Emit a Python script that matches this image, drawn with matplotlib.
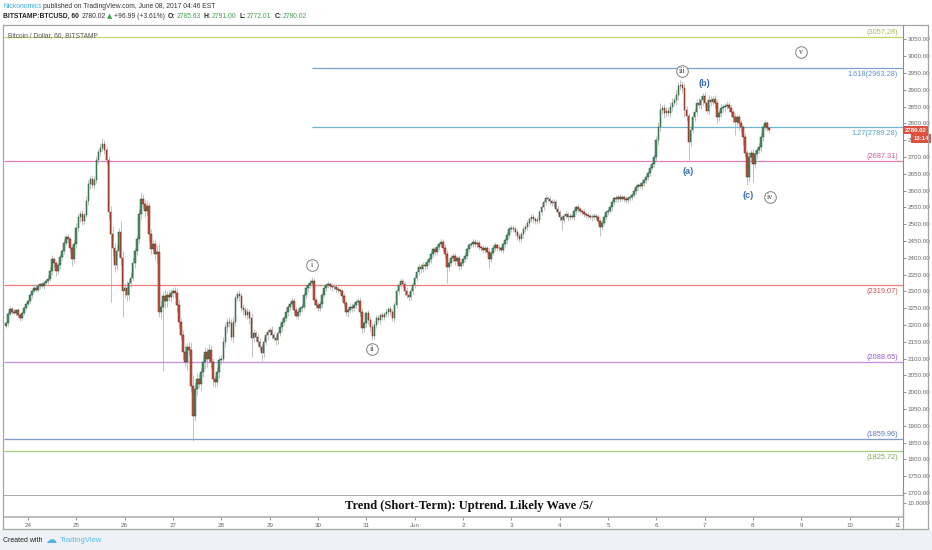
import numpy as np
import matplotlib.pyplot as plt
import matplotlib.transforms as mtransforms
from matplotlib.patches import Rectangle
from matplotlib.lines import Line2D

plt.rcParams['font.family'] = ['Liberation Sans', 'DejaVu Sans']

W, H = 932, 550

# BTCUSD hourly candles; hours counted from May 24 00:00 (first candle May 23 13:00)
first_hour = -11
first_open = 2196.0
closes_by_day = [
    [2205, 2232, 2248, 2240, 2236, 2244, 2230, 2222, 2235, 2250, 2262],  # May 23
    [2270, 2288, 2300, 2310, 2304, 2316, 2322, 2315, 2326, 2330, 2338, 2360,
     2395, 2385, 2360, 2378, 2402, 2420, 2445, 2462, 2455, 2428, 2395, 2440],  # 24
    [2490, 2522, 2530, 2510, 2528, 2570, 2620, 2635, 2618, 2632, 2690, 2715,
     2728, 2740, 2722, 2690, 2535, 2470, 2430, 2378, 2420, 2478, 2400, 2300],  # 25
    [2310, 2290, 2325, 2340, 2385, 2420, 2455, 2530, 2575, 2560, 2540, 2555,
     2470, 2425, 2440, 2410, 2418, 2240, 2255, 2285, 2270, 2290, 2282, 2295],  # 26
    [2300, 2296, 2260, 2210, 2170, 2120, 2090, 2135, 2125, 2020, 1930, 2010,
     2040, 2025, 2060, 2090, 2120, 2100, 2125, 2090, 2040, 2030, 2060, 2095],  # 27
    [2100, 2150, 2195, 2210, 2205, 2165, 2210, 2280, 2292, 2285, 2250, 2245,
     2230, 2238, 2222, 2160, 2175, 2165, 2150, 2135, 2118, 2150, 2170, 2180],  # 28
    [2185, 2170, 2162, 2155, 2175, 2195, 2210, 2220, 2240, 2255, 2262, 2270,
     2245, 2228, 2240, 2250, 2255, 2290, 2310, 2318, 2325, 2330, 2275, 2260],  # 29
    [2250, 2262, 2290, 2310, 2318, 2322, 2316, 2312, 2314, 2308, 2305, 2300,
     2285, 2265, 2238, 2245, 2255, 2250, 2260, 2268, 2272, 2240, 2190, 2205],  # 30
    [2235, 2215, 2195, 2168, 2200, 2222, 2215, 2230, 2225, 2232, 2240, 2248,
     2238, 2222, 2260, 2300, 2318, 2330, 2322, 2300, 2290, 2282, 2300, 2318],  # 31
    [2340, 2358, 2372, 2368, 2380, 2375, 2388, 2395, 2410, 2425, 2418, 2432,
     2440, 2448, 2430, 2410, 2372, 2385, 2398, 2405, 2390, 2398, 2375, 2385],  # Jun 1
    [2395, 2405, 2425, 2438, 2442, 2448, 2440, 2445, 2432, 2428, 2424, 2428,
     2418, 2395, 2415, 2430, 2438, 2430, 2428, 2424, 2440, 2452, 2468, 2485],  # 2
    [2490, 2486, 2478, 2465, 2455, 2470, 2485, 2492, 2505, 2515, 2522, 2515,
     2510, 2513, 2535, 2552, 2565, 2578, 2575, 2568, 2562, 2565, 2545, 2535],  # 3
    [2520, 2512, 2525, 2530, 2520, 2525, 2522, 2540, 2550, 2545, 2540, 2537,
     2530, 2528, 2525, 2522, 2520, 2525, 2522, 2510, 2492, 2505, 2522, 2535],  # 4
    [2540, 2550, 2565, 2578, 2575, 2582, 2576, 2580, 2575, 2572, 2578, 2582,
     2588, 2600, 2612, 2618, 2615, 2622, 2630, 2640, 2652, 2668, 2680, 2700],  # 5
    [2750, 2790, 2840, 2845, 2830, 2838, 2832, 2850, 2862, 2868, 2885, 2910,
     2915, 2905, 2840, 2822, 2745, 2780, 2820, 2835, 2860, 2855, 2870, 2880],  # 6
    [2860, 2838, 2870, 2865, 2872, 2860, 2820, 2830, 2845, 2848, 2852, 2855,
     2845, 2835, 2820, 2805, 2818, 2800, 2788, 2760, 2712, 2640, 2700, 2712],  # 7
    [2680, 2710, 2722, 2730, 2760, 2790, 2800, 2785.63, 2780.02],  # 8
]
# wick lengths above max(open, close) and below min(open, close)
up_wick_by_day = [
    [6, 10, 8, 5, 7, 4, 6, 5, 8, 6, 7],
    [5, 8, 6, 9, 5, 7, 4, 6, 5, 8, 10, 12, 14, 8, 6, 10, 9, 7, 12, 10, 8, 6, 9, 12],
    [15, 10, 8, 12, 9, 14, 10, 8, 12, 10, 12, 9, 14, 16, 10, 8, 12, 20, 25, 15, 18, 10, 30, 20],
    [15, 20, 12, 18, 14, 10, 12, 16, 21, 14, 12, 18, 10, 15, 12, 14, 20, 25, 15, 12, 18, 10, 14, 12],
    [10, 12, 15, 18, 10, 14, 20, 12, 15, 25, 30, 20, 18, 15, 12, 20, 14, 12, 18, 15, 12, 10, 14, 12],
    [10, 14, 12, 10, 15, 12, 14, 10, 8, 12, 10, 14, 8, 12, 10, 15, 12, 8, 10, 12, 9, 14, 10, 8],
    [8, 12, 10, 9, 7, 10, 12, 8, 10, 9, 8, 12, 10, 8, 9, 7, 10, 8, 9, 10, 12, 14, 10, 8],
    [8, 10, 7, 9, 8, 10, 6, 8, 7, 9, 8, 6, 7, 10, 8, 9, 7, 10, 8, 9, 7, 12, 10, 8],
    [7, 9, 8, 10, 12, 8, 9, 7, 10, 8, 9, 7, 8, 10, 9, 8, 7, 10, 8, 9, 12, 8, 10, 9],
    [8, 7, 10, 9, 8, 7, 9, 8, 10, 7, 9, 8, 7, 9, 8, 10, 12, 8, 9, 10, 8, 7, 9, 8],
    [7, 9, 8, 7, 6, 8, 9, 7, 8, 6, 9, 7, 8, 10, 7, 9, 8, 7, 9, 8, 7, 6, 8, 9],
    [8, 7, 9, 6, 8, 7, 9, 8, 6, 7, 8, 9, 7, 8, 6, 7, 8, 9, 7, 8, 6, 9, 7, 8],
    [7, 8, 6, 9, 7, 8, 6, 7, 8, 9, 7, 6, 8, 7, 9, 6, 8, 7, 6, 8, 9, 7, 8, 6],
    [7, 6, 8, 7, 9, 6, 8, 7, 6, 8, 7, 9, 6, 8, 7, 6, 8, 9, 7, 8, 6, 9, 8, 10],
    [12, 15, 20, 10, 14, 12, 10, 14, 12, 10, 15, 12, 13, 10, 14, 12, 10, 12, 14, 10, 12, 14, 12, 10],
    [12, 10, 14, 12, 10, 12, 8, 10, 12, 9, 10, 12, 8, 10, 9, 12, 8, 10, 9, 8, 12, 10, 15, 10],
    [12, 10, 9, 12, 10, 8, 10, 6, 5.37],
]
dn_wick_by_day = [
    [5, 7, 6, 8, 5, 9, 6, 10, 7, 5, 6],
    [6, 5, 8, 6, 7, 5, 9, 6, 7, 5, 8, 6, 10, 12, 15, 8, 10, 7, 9, 8, 10, 12, 20, 10],
    [12, 10, 15, 12, 10, 8, 12, 15, 10, 12, 8, 10, 12, 10, 14, 12, 20, 203, 25, 20, 15, 18, 20, 75],
    [20, 18, 15, 12, 10, 14, 12, 10, 15, 12, 18, 14, 20, 15, 12, 18, 25, 15, 20, 193, 18, 15, 12, 14],
    [15, 12, 20, 18, 15, 20, 12, 25, 15, 20, 76, 15, 20, 12, 18, 15, 20, 25, 14, 18, 20, 15, 12, 18],
    [12, 10, 15, 20, 12, 10, 15, 12, 10, 14, 12, 15, 10, 12, 20, 55, 10, 14, 12, 10, 25, 12, 10, 14],
    [10, 12, 8, 14, 10, 9, 12, 10, 8, 12, 9, 10, 12, 8, 10, 9, 12, 8, 10, 12, 9, 8, 15, 10],
    [9, 8, 10, 7, 9, 8, 10, 12, 8, 9, 10, 8, 12, 9, 10, 14, 10, 12, 9, 10, 8, 12, 15, 10],
    [10, 12, 15, 12, 9, 10, 8, 12, 9, 10, 8, 12, 9, 10, 12, 10, 9, 8, 10, 12, 9, 10, 8, 9],
    [9, 10, 8, 12, 9, 10, 8, 9, 10, 8, 12, 9, 10, 8, 9, 10, 46, 12, 9, 10, 12, 8, 10, 9],
    [8, 9, 10, 8, 7, 9, 8, 10, 9, 8, 10, 9, 8, 25, 9, 8, 10, 9, 8, 7, 9, 8, 10, 9],
    [9, 8, 10, 12, 9, 8, 10, 9, 8, 10, 9, 12, 8, 10, 9, 8, 10, 9, 8, 10, 9, 12, 10, 9],
    [10, 29, 9, 8, 10, 9, 8, 10, 9, 8, 10, 9, 8, 10, 9, 8, 10, 9, 8, 10, 27, 9, 8, 10],
    [9, 8, 10, 9, 8, 10, 9, 8, 10, 9, 8, 10, 9, 8, 10, 9, 8, 10, 9, 8, 10, 9, 8, 10],
    [12, 15, 14, 12, 15, 12, 10, 14, 12, 10, 12, 15, 12, 14, 20, 15, 54, 12, 10, 14, 12, 10, 12, 14],
    [12, 10, 14, 12, 10, 15, 20, 12, 10, 12, 14, 10, 12, 15, 18, 40, 14, 20, 15, 25, 12, 23, 15, 12],
    [55, 12, 15, 10, 14, 12, 10, 8, 8.01],
]

day_labels = ['24', '25', '26', '27', '28', '29', '30', '31', 'Jun',
              '2', '3', '4', '5', '6', '7', '8', '9', '10', '11']

level_prices = [3057.28, 2963.28, 2789.28, 2687.31, 2319.07, 2088.65, 1859.96, 1825.72]
level_texts = ['(3057.28)', '1.618(2963.28)', '1.27(2789.28)', '(2687.31)',
               '(2319.07)', '(2088.65)', '(1859.96)', '(1825.72)']
level_start = [None, 141, 141, None, None, None, None, None]
level_side = ['above', 'below', 'below', 'above', 'below', 'above', 'above', 'below']
level_colors = ['#c3d66a', '#79a5dc', '#6cb6d6', '#e47fb3', '#ef7f7f', '#c08ce4', '#7d9cc8', '#9fcd7c']
level_text_colors = ['#9fbf4f', '#5b8ed8', '#4aa2cf', '#d65a9c', '#c75050', '#9558cf', '#5a77c2', '#78ab55']

wave_texts = ['i', 'ii', 'iii', 'iv', 'v']
wave_hours = [141, 171, 325, 368.5, 384]
wave_prices = [2379, 2129, 2956, 2581, 3012]
abc_texts = ['(a)', '(b)', '(c)']
abc_hours = [328, 336, 357.5]
abc_prices = [2658, 2920, 2584]

last_price = 2780.02

closes = np.concatenate([np.array(d, float) for d in closes_by_day])
up_w = np.concatenate([np.array(d, float) for d in up_wick_by_day])
dn_w = np.concatenate([np.array(d, float) for d in dn_wick_by_day])
opens = np.r_[first_open, closes[:-1]]
highs = np.maximum(opens, closes) + up_w
lows = np.minimum(opens, closes) - dn_w
hours = np.arange(len(closes)) + first_hour


def rect(x0, y0, x1, y1):
    return [x0 / W, 1 - y1 / H, (x1 - x0) / W, (y1 - y0) / H]


fig = plt.figure(figsize=(W / 100, H / 100), dpi=100)
fig.patch.set_facecolor('white')

# page background below the chart
fig.patches.append(Rectangle((0, 0), 1, 1 - 530 / H, transform=fig.transFigure,
                             facecolor='#eef2f6', edgecolor='none', zorder=0))

XMIN, XMAX = -11.9, 434.5
YMIN, YMAX = 1691.3, 3092.6

ax = fig.add_axes(rect(4, 25, 903, 496))
ax.set_xlim(XMIN, XMAX)
ax.set_ylim(YMIN, YMAX)
ax.set_facecolor('white')

# candles
up = closes >= opens
ax.vlines(hours, lows, highs, color='#b0b0b0', lw=0.55, zorder=3)
body_bottom = np.minimum(opens, closes)
body_h = np.maximum(np.abs(closes - opens), 1.5)
ax.bar(hours[up], body_h[up], bottom=body_bottom[up], width=0.8,
       color='#4a9468', edgecolor='#275a3b', lw=0.35, zorder=4)
ax.bar(hours[~up], body_h[~up], bottom=body_bottom[~up], width=0.8,
       color='#c9523f', edgecolor='#6e2518', lw=0.35, zorder=4)

# horizontal levels
for p, txt, st, side, c, tc in zip(level_prices, level_texts, level_start,
                                    level_side, level_colors, level_text_colors):
    x0 = XMIN if st is None else st
    ax.hlines(p, x0, XMAX, color=c, lw=0.9, zorder=2)
    off = 3.5 if side == 'above' else -4.5
    ax.annotate(txt, (432, p), xytext=(0, off), textcoords='offset points',
                ha='right', va='center', fontsize=5.3, color=tc, zorder=5)

# wave counts
ax.scatter(wave_hours, wave_prices, s=70, facecolor='white', edgecolor='#808080',
           lw=0.7, zorder=6)
for t, hx, py in zip(wave_texts, wave_hours, wave_prices):
    ax.text(hx, py, t, ha='center', va='center', fontsize=5.8, color='#444444',
            family='Liberation Serif', zorder=7)
for t, hx, py in zip(abc_texts, abc_hours, abc_prices):
    ax.text(hx, py, t, ha='center', va='center', fontsize=6.5, color='#3b6db3',
            fontweight='bold', zorder=7)

ax.text(0.005, 0.978, 'Bitcoin / Dollar, 60, BITSTAMP', transform=ax.transAxes,
        ha='left', va='center', fontsize=4.8, color='#555555', zorder=8)

# price axis
ax.yaxis.tick_right()
ax.set_yticks(np.arange(1700, 3051, 50))
ax.set_yticklabels(['%.2f' % v for v in np.arange(1700, 3051, 50)])
ax.tick_params(axis='y', labelsize=4.5, length=2, width=0.5, pad=1.5,
               colors='#666666')
ax.set_xticks([])
for s in ['top', 'left']:
    ax.spines[s].set_visible(False)
ax.spines['right'].set_color('#8c8c8c')
ax.spines['right'].set_linewidth(0.8)
ax.spines['bottom'].set_color('#9a9a9a')
ax.spines['bottom'].set_linewidth(1.2)

trans = mtransforms.blended_transform_factory(ax.transAxes, ax.transData)
ax.text(1.0015, last_price, '%.2f' % last_price, transform=trans, ha='left',
        va='center', fontsize=4.3, color='white', fontweight='bold', clip_on=False,
        zorder=10, bbox=dict(boxstyle='square,pad=0.3', facecolor='#e0503f',
                             edgecolor='none'))
ax.text(1.0115, last_price - 25, '13:14', transform=trans, ha='left',
        va='center', fontsize=4.3, color='white', fontweight='bold', clip_on=False,
        zorder=10, bbox=dict(boxstyle='square,pad=0.35', facecolor='#e0503f',
                             edgecolor='none'))

# lower pane with text
ax2 = fig.add_axes(rect(4, 496, 903, 517))
ax2.set_xlim(XMIN, XMAX)
ax2.set_ylim(0, 15)
ax2.set_facecolor('white')
ax2.yaxis.tick_right()
ax2.set_yticks([10])
ax2.set_yticklabels(['10.0000'])
ax2.tick_params(axis='y', labelsize=4.5, length=2, width=0.5, pad=1.5,
                colors='#666666')
ax2.set_xticks(np.arange(len(day_labels)) * 24)
ax2.set_xticklabels(day_labels)
ax2.tick_params(axis='x', labelsize=4.5, length=2.5, width=0.5, pad=1.5,
                colors='#666666')
for s in ['top', 'left']:
    ax2.spines[s].set_visible(False)
ax2.spines['right'].set_color('#8c8c8c')
ax2.spines['right'].set_linewidth(0.8)
ax2.spines['bottom'].set_color('#b0b0b0')
ax2.spines['bottom'].set_linewidth(1.2)

fig.text(345 / W, 1 - 506.5 / H, 'Trend (Short-Term): Uptrend. Likely Wave /5/',
         ha='left', va='center', fontsize=9, fontweight='bold',
         family='Liberation Serif', color='#111111')

# outer frame
frame = [((3, 25), (928, 25)), ((3, 25), (3, 529)), ((928, 25), (928, 529)),
         ((3, 529), (928, 529)), ((903, 496), (903, 529))]
for (xa, ya), (xb, yb) in frame:
    fig.lines.append(Line2D([xa / W, xb / W], [1 - ya / H, 1 - yb / H],
                            transform=fig.transFigure, color='#a5a5a5', lw=0.9))

# header lines: pieces placed one after another
renderer = fig.canvas.get_renderer()


def text_row(x, y, pieces, size=4.9):
    for s, color, weight, gap in pieces:
        fam = ['DejaVu Sans'] if s == '\u25b2' else ['Liberation Sans', 'DejaVu Sans']
        t = fig.text(x / W, 1 - y / H, s, ha='left', va='center', fontsize=size,
                     color=color, fontweight=weight, family=fam)
        bb = t.get_window_extent(renderer)
        x += bb.width + gap


dark = '#333333'
green = '#3fa34d'
text_row(3, 6.5, [('Nickonomics', '#3aa9df', 'normal', 1.2),
                  ('published on TradingView.com, June 08, 2017 04:46 EST', dark, 'normal', 0)])
text_row(3, 16.5, [('BITSTAMP:BTCUSD, 60', '#222222', 'bold', 3),
                   ('2780.02', dark, 'normal', 1.2),
                   ('\u25b2', green, 'normal', 1.2),
                   ('+96.99 (+3.61%)', dark, 'normal', 3),
                   ('O:', '#222222', 'bold', 1.2), ('2785.63', green, 'normal', 3),
                   ('H:', '#222222', 'bold', 1.2), ('2791.00', green, 'normal', 3),
                   ('L:', '#222222', 'bold', 1.2), ('2772.01', green, 'normal', 3),
                   ('C:', '#222222', 'bold', 1.2), ('2780.02', green, 'normal', 0)])

fig.text(3 / W, 1 - 540.5 / H, 'Created with', ha='left', va='center',
         fontsize=5, color='#222222')
fig.text(45 / W, 1 - 539.5 / H, '\u2601', ha='left', va='center',
         fontsize=8, color='#4fb0e3', family='DejaVu Sans')
fig.text(60 / W, 1 - 540.5 / H, 'TradingView', ha='left', va='center',
         fontsize=5.5, color='#5ab8e8')

fig.savefig('out.png', dpi=100, facecolor=fig.get_facecolor())
